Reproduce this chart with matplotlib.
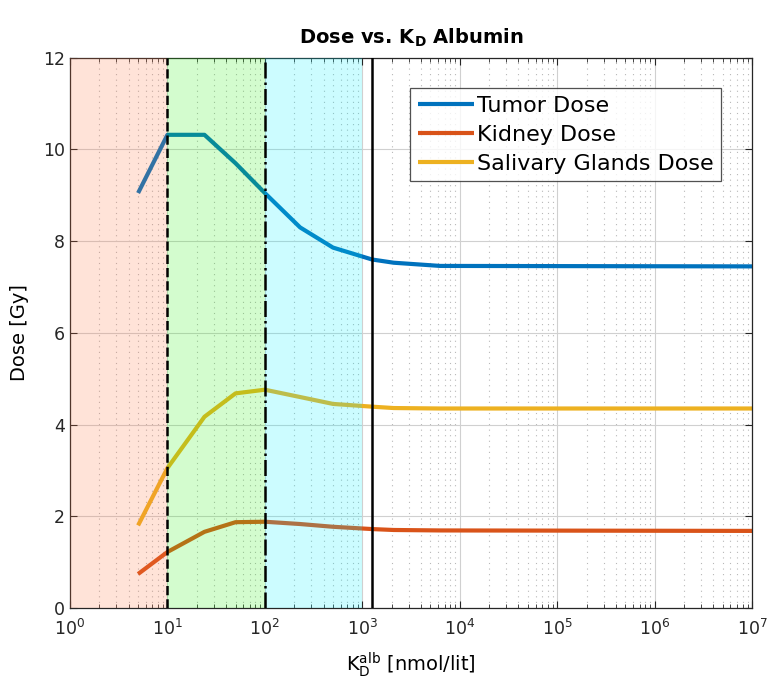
import matplotlib
matplotlib.use("Agg")
import matplotlib.pyplot as plt
from matplotlib.ticker import LogLocator, FixedLocator, NullFormatter

plt.rcParams['font.family'] = ['DejaVu Sans']
plt.rcParams['mathtext.default'] = 'regular'

kd = [5, 10, 24, 50, 100, 230, 500, 1260, 2100, 6300, 1e7]
tumor = [9.05, 10.32, 10.32, 9.7, 9.05, 8.3, 7.86, 7.60, 7.53, 7.46, 7.45]
kidney = [0.74, 1.22, 1.66, 1.87, 1.88, 1.83, 1.77, 1.72, 1.70, 1.69, 1.68]
salivary = [1.8, 3.05, 4.17, 4.68, 4.76, 4.6, 4.45, 4.39, 4.36, 4.35, 4.35]

regions = [(1, 10), (10, 100), (100, 1000)]
region_colors = [(1.0, 0.45, 0.25), (0.15, 0.95, 0.05), (0.0, 0.95, 1.0)]
vlines = [10, 100, 1260]
vstyles = ['--', '-.', '-']

fig = plt.figure(figsize=(7.69, 6.8), dpi=100)
ax = fig.add_axes([0.091, 0.106, 0.887, 0.809])

l1, = ax.plot(kd, tumor, color='#0072BD', lw=3.0, label='Tumor Dose', zorder=2, solid_capstyle='butt')
l2, = ax.plot(kd, kidney, color='#D95319', lw=3.0, label='Kidney Dose', zorder=2, solid_capstyle='butt')
l3, = ax.plot(kd, salivary, color='#EDB120', lw=3.0, label='Salivary Glands Dose', zorder=2, solid_capstyle='butt')

for (a, b), c in zip(regions, region_colors):
    ax.axvspan(a, b, color=c, alpha=0.2, lw=0, zorder=3)

for v, s in zip(vlines, vstyles):
    ax.axvline(v, color='black', lw=1.8, ls=s, zorder=4)

ax.set_xscale('log')
ax.set_xlim(1, 1e7)
ax.set_ylim(0, 12)
ax.set_yticks([0, 2, 4, 6, 8, 10, 12])
ax.xaxis.set_major_locator(FixedLocator([10.0**k for k in range(8)]))
ax.xaxis.set_minor_locator(LogLocator(base=10, subs=range(2, 10), numticks=20))
ax.xaxis.set_minor_formatter(NullFormatter())

ax.grid(True, which='major', color='#d0d0d0', lw=0.8, zorder=0)
ax.grid(True, which='minor', axis='x', color='#b8b8b8', lw=0.8, ls=(0, (1, 4)), zorder=0)
ax.set_axisbelow(True)

ax.tick_params(which='both', direction='in', top=True, right=True, labelsize=12.5, colors='#262626')
ax.tick_params(which='major', length=5)
ax.tick_params(which='minor', length=3)
ax.tick_params(axis='x', which='major', pad=8)
for sp in ax.spines.values():
    sp.set_color('#262626')
    sp.set_linewidth(0.9)

ax.set_title(r'Dose vs. K$_\mathbf{D}$ Albumin', fontsize=14, fontweight='bold', pad=10)
ax.set_ylabel('Dose [Gy]', fontsize=14, labelpad=10)
ax.set_xlabel(r'K$_D^{alb}$ [nmol/lit]', fontsize=14, labelpad=8)

leg = ax.legend(handles=[l1, l2, l3], loc='upper right', bbox_to_anchor=(0.955, 0.945),
                fontsize=16, frameon=True, fancybox=False, edgecolor='#262626',
                handlelength=2.5, handletextpad=0.15, borderpad=0.35, labelspacing=0.4,
                borderaxespad=0)
leg.get_frame().set_linewidth(0.9)
leg.set_zorder(10)

fig.savefig('out.png', dpi=100)
